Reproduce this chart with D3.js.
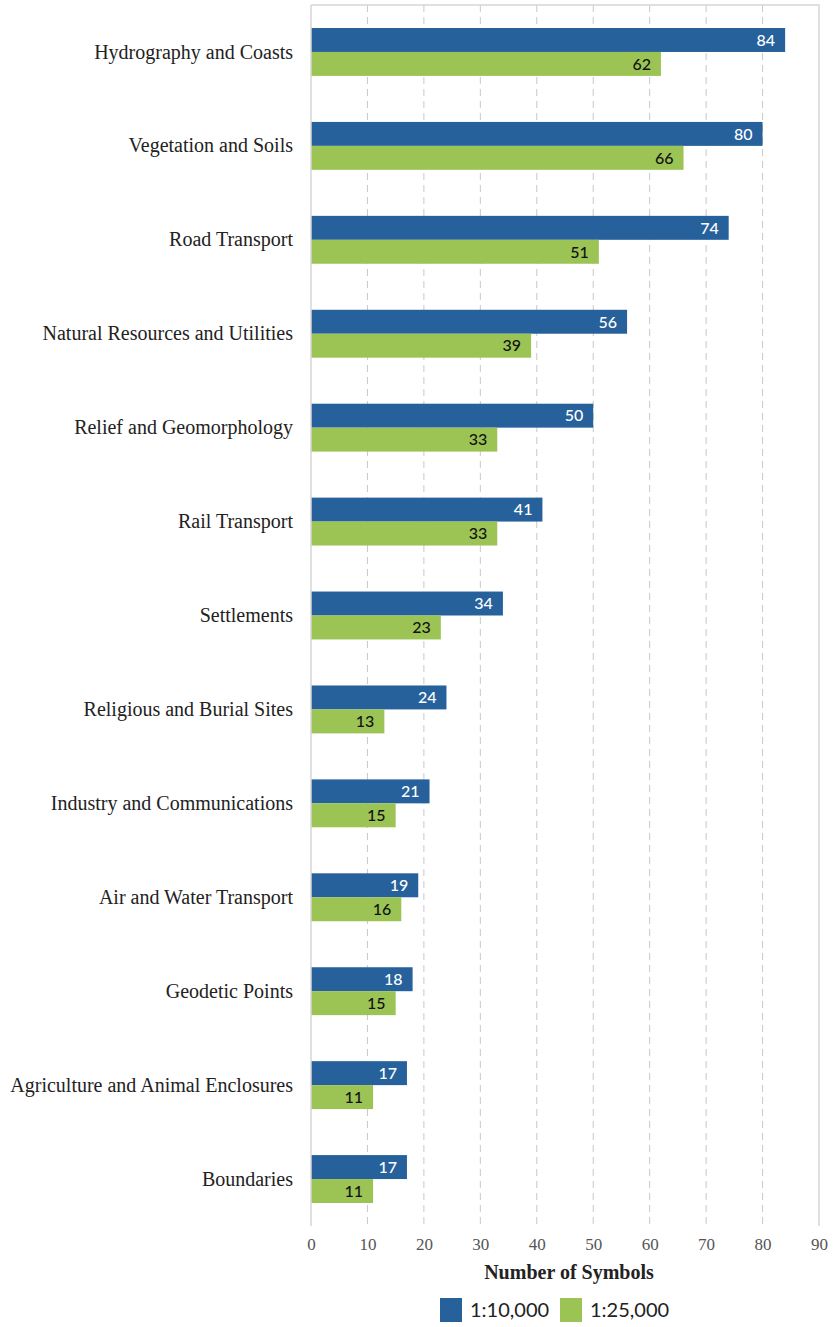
<!DOCTYPE html>
<html>
<head>
<meta charset="utf-8">
<script src="https://cdn.jsdelivr.net/npm/d3@7"></script>
<style>
  html, body { margin: 0; padding: 0; background: #fff; }
  svg { display: block; }
</style>
</head>
<body>
<svg id="chart" width="833" height="1327"></svg>
<script>
// Symbol counts per theme at the two map scales
const categories = [
  "Hydrography and Coasts",
  "Vegetation and Soils",
  "Road Transport",
  "Natural Resources and Utilities",
  "Relief and Geomorphology",
  "Rail Transport",
  "Settlements",
  "Religious and Burial Sites",
  "Industry and Communications",
  "Air and Water Transport",
  "Geodetic Points",
  "Agriculture and Animal Enclosures",
  "Boundaries"
];
const scale10k = [84, 80, 74, 56, 50, 41, 34, 24, 21, 19, 18, 17, 17];
const scale25k = [62, 66, 51, 39, 33, 33, 23, 13, 15, 16, 15, 11, 11];
const seriesNames = ["1:10,000", "1:25,000"];
const xTicks = [0, 10, 20, 30, 40, 50, 60, 70, 80, 90];

const colors = ["#26619b", "#9bc455"];
const labelColors = ["#ffffff", "#111111"];
const serif = "'Liberation Serif', 'DejaVu Serif', serif";
const sans = "Lato, 'Open Sans', sans-serif";

const svg = d3.select("#chart");
const m = { left: 311, right: 819, top: 5, bottom: 1226 };

const x = d3.scaleLinear().domain([0, 90]).range([m.left, m.right]);
const y = d3.scaleBand().domain(categories).range([m.top, m.bottom]).paddingInner(0.49).paddingOuter(0.245);
const ySub = d3.scaleBand().domain([0, 1]).range([0, y.bandwidth()]);

// Dashed vertical gridlines
svg.append("g")
  .selectAll("line")
  .data(xTicks.filter(d => d > 0 && d < 90))
  .join("line")
  .attr("x1", d => x(d)).attr("x2", d => x(d))
  .attr("y1", m.top).attr("y2", m.bottom)
  .attr("stroke", "#c8c8c8")
  .attr("stroke-width", 1)
  .attr("stroke-dasharray", "7,5");

// Plot frame
svg.append("path")
  .attr("d", `M${m.left},${m.top}H${m.right}V${m.bottom}`)
  .attr("fill", "none")
  .attr("stroke", "#d6d6d6")
  .attr("stroke-width", 1.5);

// Bars
const rows = categories.map((c, i) => ({ c, vals: [scale10k[i], scale25k[i]] }));
const groups = svg.append("g").selectAll("g")
  .data(rows)
  .join("g")
  .attr("transform", d => `translate(0,${y(d.c)})`);

groups.selectAll("rect")
  .data(d => d.vals.map((v, k) => ({ v, k })))
  .join("rect")
  .attr("x", x(0))
  .attr("y", d => ySub(d.k))
  .attr("width", d => x(d.v) - x(0))
  .attr("height", ySub.bandwidth())
  .attr("fill", d => colors[d.k]);

groups.selectAll("text")
  .data(d => d.vals.map((v, k) => ({ v, k })))
  .join("text")
  .attr("x", d => x(d.v) - 10)
  .attr("y", d => ySub(d.k) + ySub.bandwidth() / 2)
  .attr("dy", "0.36em")
  .attr("text-anchor", "end")
  .attr("font-family", sans)
  .attr("font-size", 16)
  .attr("font-weight", 500)
  .attr("fill", d => labelColors[d.k])
  .text(d => d.v);

// Left axis line and category labels
svg.append("line")
  .attr("x1", m.left).attr("x2", m.left)
  .attr("y1", m.top).attr("y2", m.bottom)
  .attr("stroke", "#d6d6d6").attr("stroke-width", 1.5);

svg.append("g").selectAll("text")
  .data(categories)
  .join("text")
  .attr("x", m.left - 18)
  .attr("y", d => y(d) + y.bandwidth() / 2)
  .attr("dy", "0.33em")
  .attr("text-anchor", "end")
  .attr("font-family", serif)
  .attr("font-size", 20)
  .attr("fill", "#222")
  .text(d => d);

// Bottom axis
const xAxis = d3.axisBottom(x).tickValues(xTicks).tickSize(0).tickPadding(12);
const ax = svg.append("g").attr("transform", `translate(0,${m.bottom})`).call(xAxis);
ax.select(".domain").remove();
ax.selectAll("text")
  .attr("font-family", serif)
  .attr("font-size", 17)
  .attr("fill", "#555");

svg.append("text")
  .attr("x", (m.left + m.right) / 2 + 4)
  .attr("y", 1279)
  .attr("text-anchor", "middle")
  .attr("font-family", serif)
  .attr("font-weight", "bold")
  .attr("font-size", 20)
  .attr("fill", "#222")
  .text("Number of Symbols");

// Legend
const legendX = [440, 560];
const legend = svg.append("g").selectAll("g")
  .data(seriesNames)
  .join("g")
  .attr("transform", (d, i) => `translate(${legendX[i]},1298)`);
legend.append("rect")
  .attr("width", 22).attr("height", 24)
  .attr("fill", (d, i) => colors[i]);
legend.append("text")
  .attr("x", 30).attr("y", 12).attr("dy", "0.36em")
  .attr("font-family", sans)
  .attr("font-size", 20)
  .attr("fill", "#222")
  .text(d => d);
</script>
</body>
</html>
